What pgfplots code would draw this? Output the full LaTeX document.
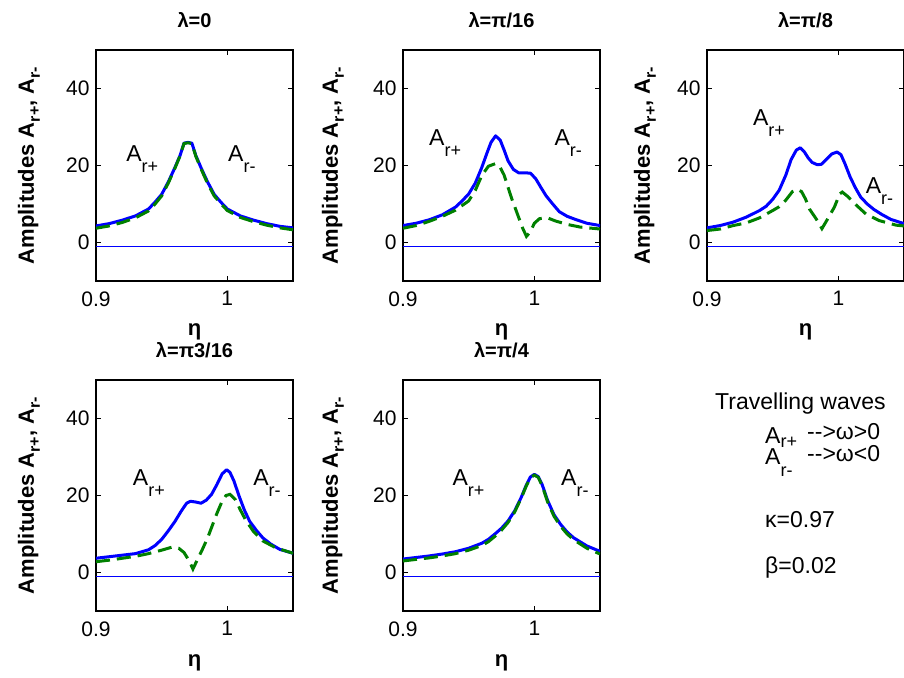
\documentclass[border=0pt]{standalone}
\usepackage{fontspec}
\setmainfont{Liberation Sans}
\usepackage{pgfplots}
\pgfplotsset{compat=1.18}
\definecolor{mblue}{rgb}{0,0,1}
\definecolor{mgreen}{rgb}{0,0.5,0}
\newcommand\fs[1]{\fontsize{#1}{#1}\selectfont}
\newcommand\Ar[1]{A\raisebox{-11pt}{\fs{18}#1}}
\newcommand\Al[1]{A\raisebox{-6pt}{\fs{16}#1}}
\pgfplotsset{
  panel/.style={
    scale only axis, width=197pt, height=231pt, anchor=south west,
    xmin=0.9, xmax=1.05, ymin=-10, ymax=50,
    xtick={0.9,1}, xticklabels={0.9,1},
    ytick={0,20,40}, yticklabels={0,20,40},
    tick align=inside, tick pos=both,
    major tick length=5pt,
    axis line style={line width=1.2pt},
    every tick/.style={black, line width=1pt},
    tick label style={font=\fs{21}},
    xticklabel style={yshift=-7pt},
    yticklabel style={xshift=-3pt},
    every axis title/.style={at={(axis description cs:0.5,1)}, anchor=base, yshift=22pt, font=\fs{20}\bfseries},
    xlabel={η},
    every axis x label/.style={at={(axis description cs:0.5,0)}, anchor=base, yshift=-55pt, font=\fs{22}\bfseries},
    ylabel={Amplitudes \Al{r+}, \Al{r-}},
    every axis y label/.style={at={(axis description cs:-0.315,0.5)}, rotate=90, anchor=base, font=\fs{22}\bfseries},
  },
  bl/.style={color=mblue, line width=3pt, line join=round},
  gr/.style={color=mgreen, line width=3pt, dash pattern=on 14pt off 7pt},
  zl/.style={color=mblue, line width=1pt},
}
\begin{document}
\begin{tikzpicture}
\path[use as bounding box] (0,0) rectangle (904pt,677pt);

% ---- lambda = 0
\begin{axis}[panel, at={(96pt,396pt)}, title={λ=0}]
\addplot[zl] coordinates {(0.9,-1) (1.05,-1)};
\addplot[bl] coordinates {(0.900,4.3) (0.910,4.9) (0.920,5.8) (0.930,6.9) (0.940,8.7) (0.945,10.5) (0.950,12.5) (0.955,15.7) (0.960,19.4) (0.964,22.6) (0.967,25.8) (0.970,26.0) (0.973,25.8) (0.976,22.6) (0.980,19.4) (0.985,15.7) (0.990,12.5) (0.995,10.5) (1.000,8.7) (1.010,6.9) (1.020,5.8) (1.030,4.9) (1.040,4.2) (1.050,3.8)};
\addplot[gr] coordinates {(0.900,3.7) (0.910,4.3) (0.920,5.2) (0.930,6.4) (0.940,8.2) (0.945,10.0) (0.950,12.1) (0.955,15.4) (0.960,19.2) (0.964,22.5) (0.967,25.7) (0.970,25.9) (0.973,25.7) (0.976,22.4) (0.980,19.1) (0.985,15.3) (0.990,12.1) (0.995,10.1) (1.000,8.3) (1.010,6.5) (1.020,5.4) (1.030,4.5) (1.040,3.8) (1.050,3.3)};
\node[anchor=base west, inner sep=0, font=\fs{23}] at (axis cs:0.9229,21.1) {\Ar{r+}};
\node[anchor=base west, inner sep=0, font=\fs{23}] at (axis cs:1.0005,21.1) {\Ar{r-}};
\end{axis}

% ---- lambda = pi/16
\begin{axis}[panel, at={(403pt,396pt)}, title={λ=π/16}, every axis y label/.append style={at={(axis description cs:-0.33,0.5)}}]
\addplot[zl] coordinates {(0.9,-1) (1.05,-1)};
\addplot[bl] coordinates {(0.900,4.4) (0.910,5.0) (0.920,5.9) (0.930,7.2) (0.940,9.2) (0.945,10.8) (0.950,12.6) (0.955,15.4) (0.960,19.5) (0.964,23.3) (0.967,26.0) (0.9705,27.7) (0.974,26.6) (0.977,24.0) (0.980,21.2) (0.984,19.0) (0.988,18.1) (0.993,18.1) (0.997,18.0) (1.001,16.6) (1.005,14.3) (1.009,12.1) (1.014,10.0) (1.019,8.0) (1.025,6.8) (1.032,5.9) (1.040,5.0) (1.050,4.4)};
\addplot[gr] coordinates {(0.900,3.7) (0.910,4.4) (0.920,5.5) (0.930,6.8) (0.940,8.4) (0.950,10.8) (0.955,13.5) (0.960,17.4) (0.965,19.8) (0.9705,20.5) (0.974,19.5) (0.977,17.5) (0.980,14.3) (0.983,11.2) (0.987,7.5) (0.991,3.8) (0.994,1.6) (0.997,2.8) (1.000,5.0) (1.004,6.2) (1.010,6.4) (1.016,5.6) (1.025,4.7) (1.035,4.0) (1.050,3.5)};
\node[anchor=base west, inner sep=0, font=\fs{23}] at (axis cs:0.9198,25.1) {\Ar{r+}};
\node[anchor=base west, inner sep=0, font=\fs{23}] at (axis cs:1.0153,25.1) {\Ar{r-}};
\end{axis}

% ---- lambda = pi/8
\begin{axis}[panel, at={(707pt,396pt)}, title={λ=π/8}, every axis y label/.append style={at={(axis description cs:-0.29,0.5)}}]
\addplot[zl] coordinates {(0.9,-1) (1.05,-1)};
\addplot[bl] coordinates {(0.900,3.8) (0.910,4.4) (0.920,5.3) (0.930,6.6) (0.940,8.3) (0.945,9.4) (0.950,11.2) (0.955,13.6) (0.960,17.5) (0.964,21.5) (0.968,24.0) (0.971,24.6) (0.974,23.6) (0.977,22.0) (0.980,20.8) (0.984,20.2) (0.987,20.3) (0.991,21.6) (0.995,23.0) (0.999,23.5) (1.002,22.8) (1.005,20.5) (1.009,17.0) (1.013,14.2) (1.017,11.8) (1.022,10.0) (1.027,8.6) (1.033,7.3) (1.040,6.0) (1.050,4.9)};
\addplot[gr] coordinates {(0.900,3.1) (0.910,3.5) (0.920,4.4) (0.930,5.1) (0.940,6.4) (0.950,8.3) (0.955,9.3) (0.960,11.0) (0.965,13.2) (0.969,13.8) (0.972,13.2) (0.975,11.3) (0.978,8.7) (0.983,6.2) (0.9875,3.6) (0.992,6.2) (0.997,9.2) (1.001,12.6) (1.003,13.1) (1.007,12.0) (1.014,9.6) (1.021,7.4) (1.031,5.7) (1.044,4.5) (1.050,4.3)};
\node[anchor=base west, inner sep=0, font=\fs{23}] at (axis cs:0.9349,30.5) {\Ar{r+}};
\node[anchor=base west, inner sep=0, font=\fs{23}] at (axis cs:1.0208,12.6) {\Ar{r-}};
\end{axis}

% ---- lambda = 3pi/16
\begin{axis}[panel, at={(96pt,66pt)}, title={λ=π3/16}]
\addplot[zl] coordinates {(0.9,-1) (1.05,-1)};
\addplot[bl] coordinates {(0.900,3.7) (0.910,4.1) (0.920,4.5) (0.930,4.9) (0.940,5.9) (0.945,7.0) (0.950,8.6) (0.955,10.8) (0.960,13.2) (0.965,16.0) (0.969,18.0) (0.972,18.5) (0.976,18.3) (0.980,18.0) (0.984,18.8) (0.988,20.3) (0.992,22.8) (0.996,25.6) (0.9995,26.7) (1.002,26.0) (1.005,23.8) (1.009,19.8) (1.013,16.2) (1.017,13.3) (1.022,11.0) (1.027,9.0) (1.033,7.4) (1.040,6.0) (1.050,5.0)};
\addplot[gr] coordinates {(0.900,2.8) (0.910,3.2) (0.920,3.7) (0.930,4.2) (0.940,4.9) (0.950,5.8) (0.958,6.6) (0.963,6.3) (0.967,5.2) (0.971,3.0) (0.9738,0.9) (0.977,3.2) (0.981,6.0) (0.985,9.0) (0.989,12.6) (0.992,15.3) (0.996,18.5) (0.999,20.0) (1.002,20.3) (1.006,19.0) (1.010,16.2) (1.014,13.6) (1.020,10.6) (1.027,8.2) (1.037,6.4) (1.050,5.0)};
\node[anchor=base west, inner sep=0, font=\fs{23}] at (axis cs:0.928,22.5) {\Ar{r+}};
\node[anchor=base west, inner sep=0, font=\fs{23}] at (axis cs:1.0196,22.5) {\Ar{r-}};
\end{axis}

% ---- lambda = pi/4
\begin{axis}[panel, at={(403pt,66pt)}, title={λ=π/4}, every axis y label/.append style={at={(axis description cs:-0.33,0.5)}}]
\addplot[zl] coordinates {(0.9,-1) (1.05,-1)};
\addplot[bl] coordinates {(0.900,3.5) (0.910,3.9) (0.920,4.3) (0.930,4.8) (0.940,5.4) (0.950,6.3) (0.960,7.6) (0.965,8.6) (0.970,10.0) (0.975,11.5) (0.980,13.4) (0.985,16.0) (0.990,19.5) (0.994,22.8) (0.997,24.8) (1.000,25.5) (1.003,24.9) (1.006,22.8) (1.010,18.8) (1.015,15.0) (1.020,12.5) (1.025,10.5) (1.030,9.0) (1.040,6.9) (1.050,5.5)};
\addplot[gr] coordinates {(0.900,3.0) (0.910,3.4) (0.920,3.8) (0.930,4.3) (0.940,4.9) (0.950,5.8) (0.960,7.0) (0.965,8.0) (0.970,9.4) (0.975,11.0) (0.980,13.0) (0.985,15.7) (0.990,19.3) (0.994,22.6) (0.997,24.6) (1.000,25.3) (1.003,24.7) (1.006,22.5) (1.010,18.4) (1.015,14.6) (1.020,12.0) (1.025,10.0) (1.030,8.5) (1.040,6.3) (1.050,4.8)};
\node[anchor=base west, inner sep=0, font=\fs{23}] at (axis cs:0.9376,22.5) {\Ar{r+}};
\node[anchor=base west, inner sep=0, font=\fs{23}] at (axis cs:1.0203,22.5) {\Ar{r-}};
\end{axis}

% ---- annotation block
\node[anchor=base west, inner sep=0, font=\fs{23}] at (715pt,267pt) {Travelling waves};
\node[anchor=base west, inner sep=0, font=\fs{23}] at (765pt,233pt) {A\raisebox{-4pt}{\fs{18}r+}};
\node[anchor=base west, inner sep=0, font=\fs{23}] at (807pt,237pt) {-{}->ω>0};
\node[anchor=base west, inner sep=0, font=\fs{23}] at (765pt,212pt) {A\raisebox{-12pt}{\fs{18}r-}};
\node[anchor=base west, inner sep=0, font=\fs{23}] at (807pt,215pt) {-{}->ω<0};
\node[anchor=base west, inner sep=0, font=\fs{23}] at (765pt,149pt) {κ=0.97};
\node[anchor=base west, inner sep=0, font=\fs{23}] at (765pt,103pt) {β=0.02};
\end{tikzpicture}
\end{document}
